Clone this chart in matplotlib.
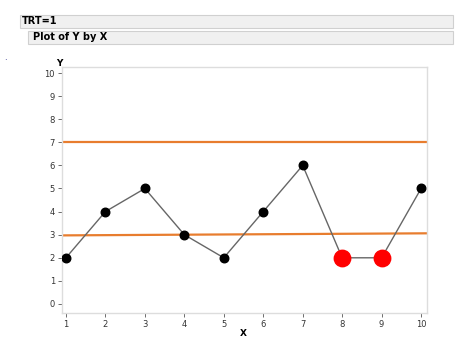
import matplotlib.pyplot as plt
from matplotlib.patches import Rectangle

x = [1, 2, 3, 4, 5, 6, 7, 8, 9, 10]
y = [2, 4, 5, 3, 2, 4, 6, 2, 2, 5]
flagged = [8, 9]
upper_limit = 7
lower_limit_start = 2.97
lower_limit_end = 3.06
xticks = list(range(1, 11))
yticks = list(range(0, 11))

W, H = 472, 363
fig = plt.figure(figsize=(W / 100, H / 100), dpi=100)
fig.patch.set_facecolor('white')

def fx(px):
    return px / W

def fy(py):
    return 1 - py / H

# header bars
for (x0, y0, x1, y1, txt, tx) in [(20, 15, 453, 28, 'TRT=1', 22), (28, 31, 453, 44, 'Plot of Y by X', 33)]:
    fig.patches.append(Rectangle((fx(x0), fy(y1)), fx(x1 - x0), (y1 - y0) / H,
                                 transform=fig.transFigure, facecolor='#f0f0f0',
                                 edgecolor='#d0d0d0', linewidth=0.8))
    fig.text(fx(tx), fy((y0 + y1) / 2), txt, fontsize=7, fontweight='bold',
             va='center', ha='left', family='DejaVu Sans')

ax = fig.add_axes([fx(62), fy(313), fx(427 - 62), (313 - 67) / H])
ax.set_xlim(0.9, 10.15)
ax.set_ylim(-0.39, 10.26)

ax.plot(x, y, color='#666666', linewidth=1.0, zorder=2)
nx = [a for a in x if a not in flagged]
ny = [b for a, b in zip(x, y) if a not in flagged]
fxs = [a for a in x if a in flagged]
fys = [b for a, b in zip(x, y) if a in flagged]
ax.scatter(nx, ny, s=38, color='black', zorder=3)
ax.scatter(fxs, fys, s=140, color='#ff0000', zorder=3)

ax.axhline(upper_limit, color='#e87d2e', linewidth=1.6, zorder=1)
ax.plot([0.9, 10.15], [lower_limit_start, lower_limit_end], color='#e87d2e', linewidth=1.6, zorder=1)

ax.set_xticks(xticks)
ax.set_yticks(yticks)
ax.tick_params(labelsize=6, length=3, width=0.6, color='#555555', labelcolor='#333333', pad=2)
for s in ax.spines.values():
    s.set_color('#dddddd')
    s.set_linewidth(1.0)

fig.text(fx(59), fy(64), 'Y', fontsize=6.5, fontweight='bold', ha='center', va='center')
fig.text(fx(243), fy(334), 'X', fontsize=6.5, fontweight='bold', ha='center', va='center')
fig.text(fx(5), fy(57), '.', fontsize=6, color='#1a1a80', ha='center', va='center')

fig.savefig('out.png', dpi=100)
